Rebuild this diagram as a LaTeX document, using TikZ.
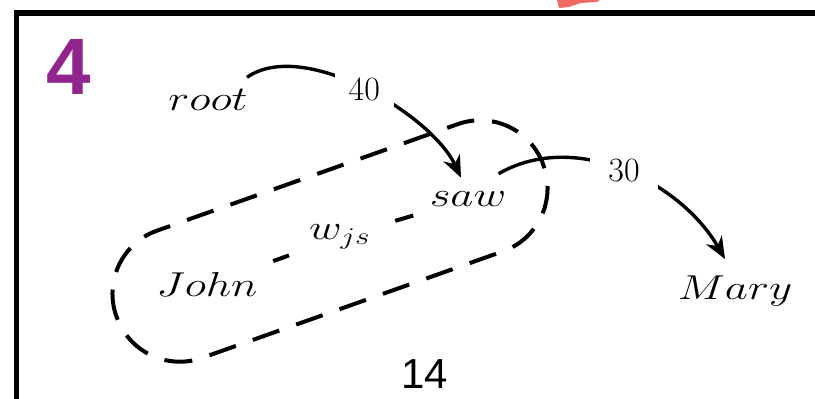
\documentclass[tikz,border=0pt]{standalone}
\usepackage{fontspec}
\usepackage{graphicx}
\newfontfamily\slidefont{Liberation Sans}
\usetikzlibrary{arrows.meta}
\definecolor{slidenum}{HTML}{92248E}
\definecolor{smudge}{HTML}{F26B63}
\newcommand{\wrd}[1]{\scalebox{1.3}[1]{$#1$}}
\tikzset{
  word/.style={inner sep=1pt, anchor=base, font=\fontsize{17}{20}\selectfont},
  wgt/.style={fill=white, inner sep=7pt, font=\fontsize{17}{20}\selectfont},
  arc/.style={line width=1.7pt, -{Stealth[length=11pt,width=9pt,inset=3.5pt]}},
  dsh/.style={line width=2pt, dash pattern=on 14pt off 9pt},
}

\begin{document}
\begin{tikzpicture}[x=0.5pt,y=0.5pt]
  \useasboundingbox (0,0) rectangle (815,399);
  \clip (0,0) rectangle (815,399);
  % slide frame
  \draw[line width=2.75pt] (16.5,-10) -- (16.5,386) -- (830,386);
  \fill[smudge] (559,391) -- (557,399) -- (600,399) -- (597,397) -- (581,396) -- (569,392) -- cycle;
  \node[font=\slidefont\bfseries\fontsize{40}{40}\selectfont, text=slidenum, anchor=base] (num) at (69,304) {4};
  \node[font=\slidefont\fontsize{21}{21}\selectfont, anchor=base, inner sep=0pt] (pg) at (425,10) {14};
  % words
  \node[word] (root) at (208,288) {\wrd{root}};
  \node[word] (saw) at (468,192) {\wrd{saw}};
  \node[word] (john) at (207,102) {\wrd{John}};
  \node[word] (mary) at (735,99) {\wrd{Mary}};
  \node[word, anchor=center] (wjs) at (340,162) {\wrd{w_{js}}};
  % group around John and saw
  \draw[dsh, rotate around={19.5:(330,158)}, rounded corners=33.5pt] (103.5,90.5) rectangle (556.5,225.5);
  \draw[dsh, shorten <=14pt, shorten >=9.5pt] (john) -- (wjs);
  \draw[dsh, shorten <=11.5pt, shorten >=11pt] (wjs) -- (saw);
  % weighted arcs
  \draw[arc] ([xshift=-1.5pt,yshift=5pt]root.north east) to[out=35,in=115,looseness=0.75] node[wgt] (w40) {40} ([xshift=-3.5pt,yshift=6pt]saw.north);
  \draw[arc] ([xshift=-5pt,yshift=8pt]saw.north east) to[out=30,in=120,looseness=0.94] node[wgt, inner xsep=9pt] (w30) {30} ([xshift=-5pt,yshift=7.5pt]mary.north);
\end{tikzpicture}
\end{document}
